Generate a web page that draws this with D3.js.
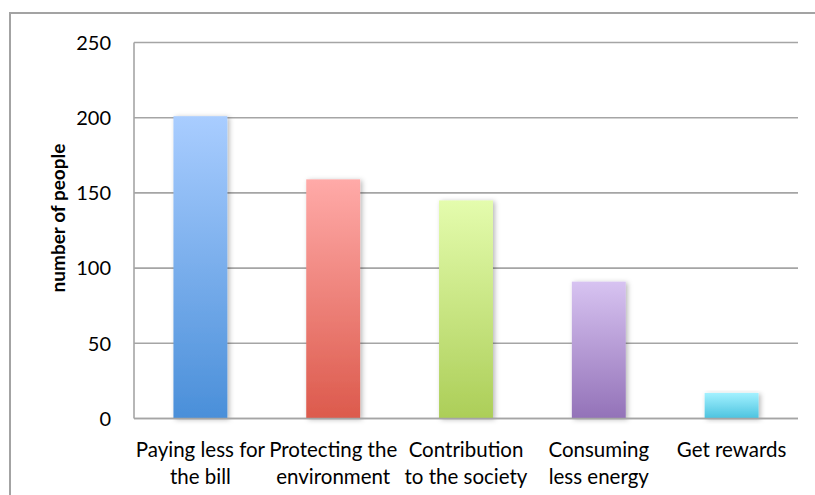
<!DOCTYPE html>
<html>
<head>
<meta charset="utf-8">
<script src="https://cdn.jsdelivr.net/npm/d3@7"></script>
<style>
  html, body { margin: 0; padding: 0; background: #fff; }
  svg { display: block; }
  text { font-family: Lato, "Open Sans", sans-serif; fill: #000; }
</style>
</head>
<body>
<svg id="chart" width="815" height="495"></svg>
<script>
// Reasons for taking part, number of people per reason
const categories = [
  ["Paying less for", "the bill"],
  ["Protecting the", "environment"],
  ["Contribution", "to the society"],
  ["Consuming", "less energy"],
  ["Get rewards"]
];
const values = [201, 159, 145, 91, 17];
const yTicks = [0, 50, 100, 150, 200, 250];
const yTitle = "number of people";
const barColors = [
  ["#a9cdff", "#4a8fd9"],
  ["#ffaaa8", "#dc5a4c"],
  ["#e4fcad", "#acce58"],
  ["#d7c3f1", "#9372b8"],
  ["#a3f1ff", "#4cc3df"]
];

const svg = d3.select("#chart");
const margin = { left: 134, right: 17, top: 42.5, bottom: 76.5 };
const W = 815, H = 495;

// outer frame (left and top edges visible)
svg.append("path")
  .attr("d", `M10,495 L10,13 L815,13`)
  .attr("fill", "none")
  .attr("stroke", "#a3a3a3")
  .attr("stroke-width", 2);

const x = d3.scaleBand()
  .domain(d3.range(values.length))
  .range([margin.left, W - margin.right])
  .paddingInner(0.594)
  .paddingOuter(0.297);

const y = d3.scaleLinear()
  .domain([0, 250])
  .range([H - margin.bottom, margin.top]);

const defs = svg.append("defs");
barColors.forEach((c, i) => {
  const g = defs.append("linearGradient")
    .attr("id", "grad" + i)
    .attr("x1", 0).attr("y1", 0).attr("x2", 0).attr("y2", 1);
  g.append("stop").attr("offset", "0%").attr("stop-color", c[0]);
  g.append("stop").attr("offset", "100%").attr("stop-color", c[1]);
});
const f = defs.append("filter").attr("id", "shadow")
  .attr("x", "-30%").attr("y", "-10%").attr("width", "160%").attr("height", "130%");
f.append("feDropShadow")
  .attr("dx", 2).attr("dy", 1).attr("stdDeviation", 2.5)
  .attr("flood-color", "#000").attr("flood-opacity", 0.28);

// gridlines
svg.append("g")
  .selectAll("line")
  .data(yTicks)
  .join("line")
  .attr("x1", margin.left).attr("x2", W - margin.right)
  .attr("y1", d => y(d)).attr("y2", d => y(d))
  .attr("stroke", "#a5a5a5")
  .attr("stroke-width", 1.6);

// y axis line
svg.append("line")
  .attr("x1", margin.left).attr("x2", margin.left)
  .attr("y1", y(250)).attr("y2", y(0))
  .attr("stroke", "#a5a5a5")
  .attr("stroke-width", 1.6);

// bars
svg.append("g")
  .selectAll("rect")
  .data(values)
  .join("rect")
  .attr("x", (d, i) => x(i))
  .attr("y", d => y(d))
  .attr("width", x.bandwidth())
  .attr("height", d => y(0) - y(d))
  .attr("fill", (d, i) => `url(#grad${i})`)
  .attr("filter", "url(#shadow)");

// redraw baseline over bar shadows
svg.append("line")
  .attr("x1", margin.left).attr("x2", W - margin.right)
  .attr("y1", y(0)).attr("y2", y(0))
  .attr("stroke", "#a5a5a5")
  .attr("stroke-width", 1.6);

// y tick labels
svg.append("g")
  .selectAll("text")
  .data(yTicks)
  .join("text")
  .attr("x", 111)
  .attr("y", d => y(d))
  .attr("dy", "0.36em")
  .attr("text-anchor", "end")
  .attr("font-size", 20)
  .text(d => d);

// y axis title
svg.append("text")
  .attr("transform", `translate(65,218) rotate(-90)`)
  .attr("text-anchor", "middle")
  .attr("font-size", 19)
  .attr("font-weight", "bold")
  .text(yTitle);

// category labels
const cat = svg.append("g")
  .selectAll("text")
  .data(categories)
  .join("text")
  .attr("x", (d, i) => x(i) + x.bandwidth() / 2)
  .attr("y", 456.5)
  .attr("text-anchor", "middle")
  .attr("font-size", 20.5);
cat.selectAll("tspan")
  .data(d => d)
  .join("tspan")
  .attr("x", function () { return d3.select(this.parentNode).attr("x"); })
  .attr("dy", (d, i) => i === 0 ? 0 : 27)
  .text(d => d);
</script>
</body>
</html>
